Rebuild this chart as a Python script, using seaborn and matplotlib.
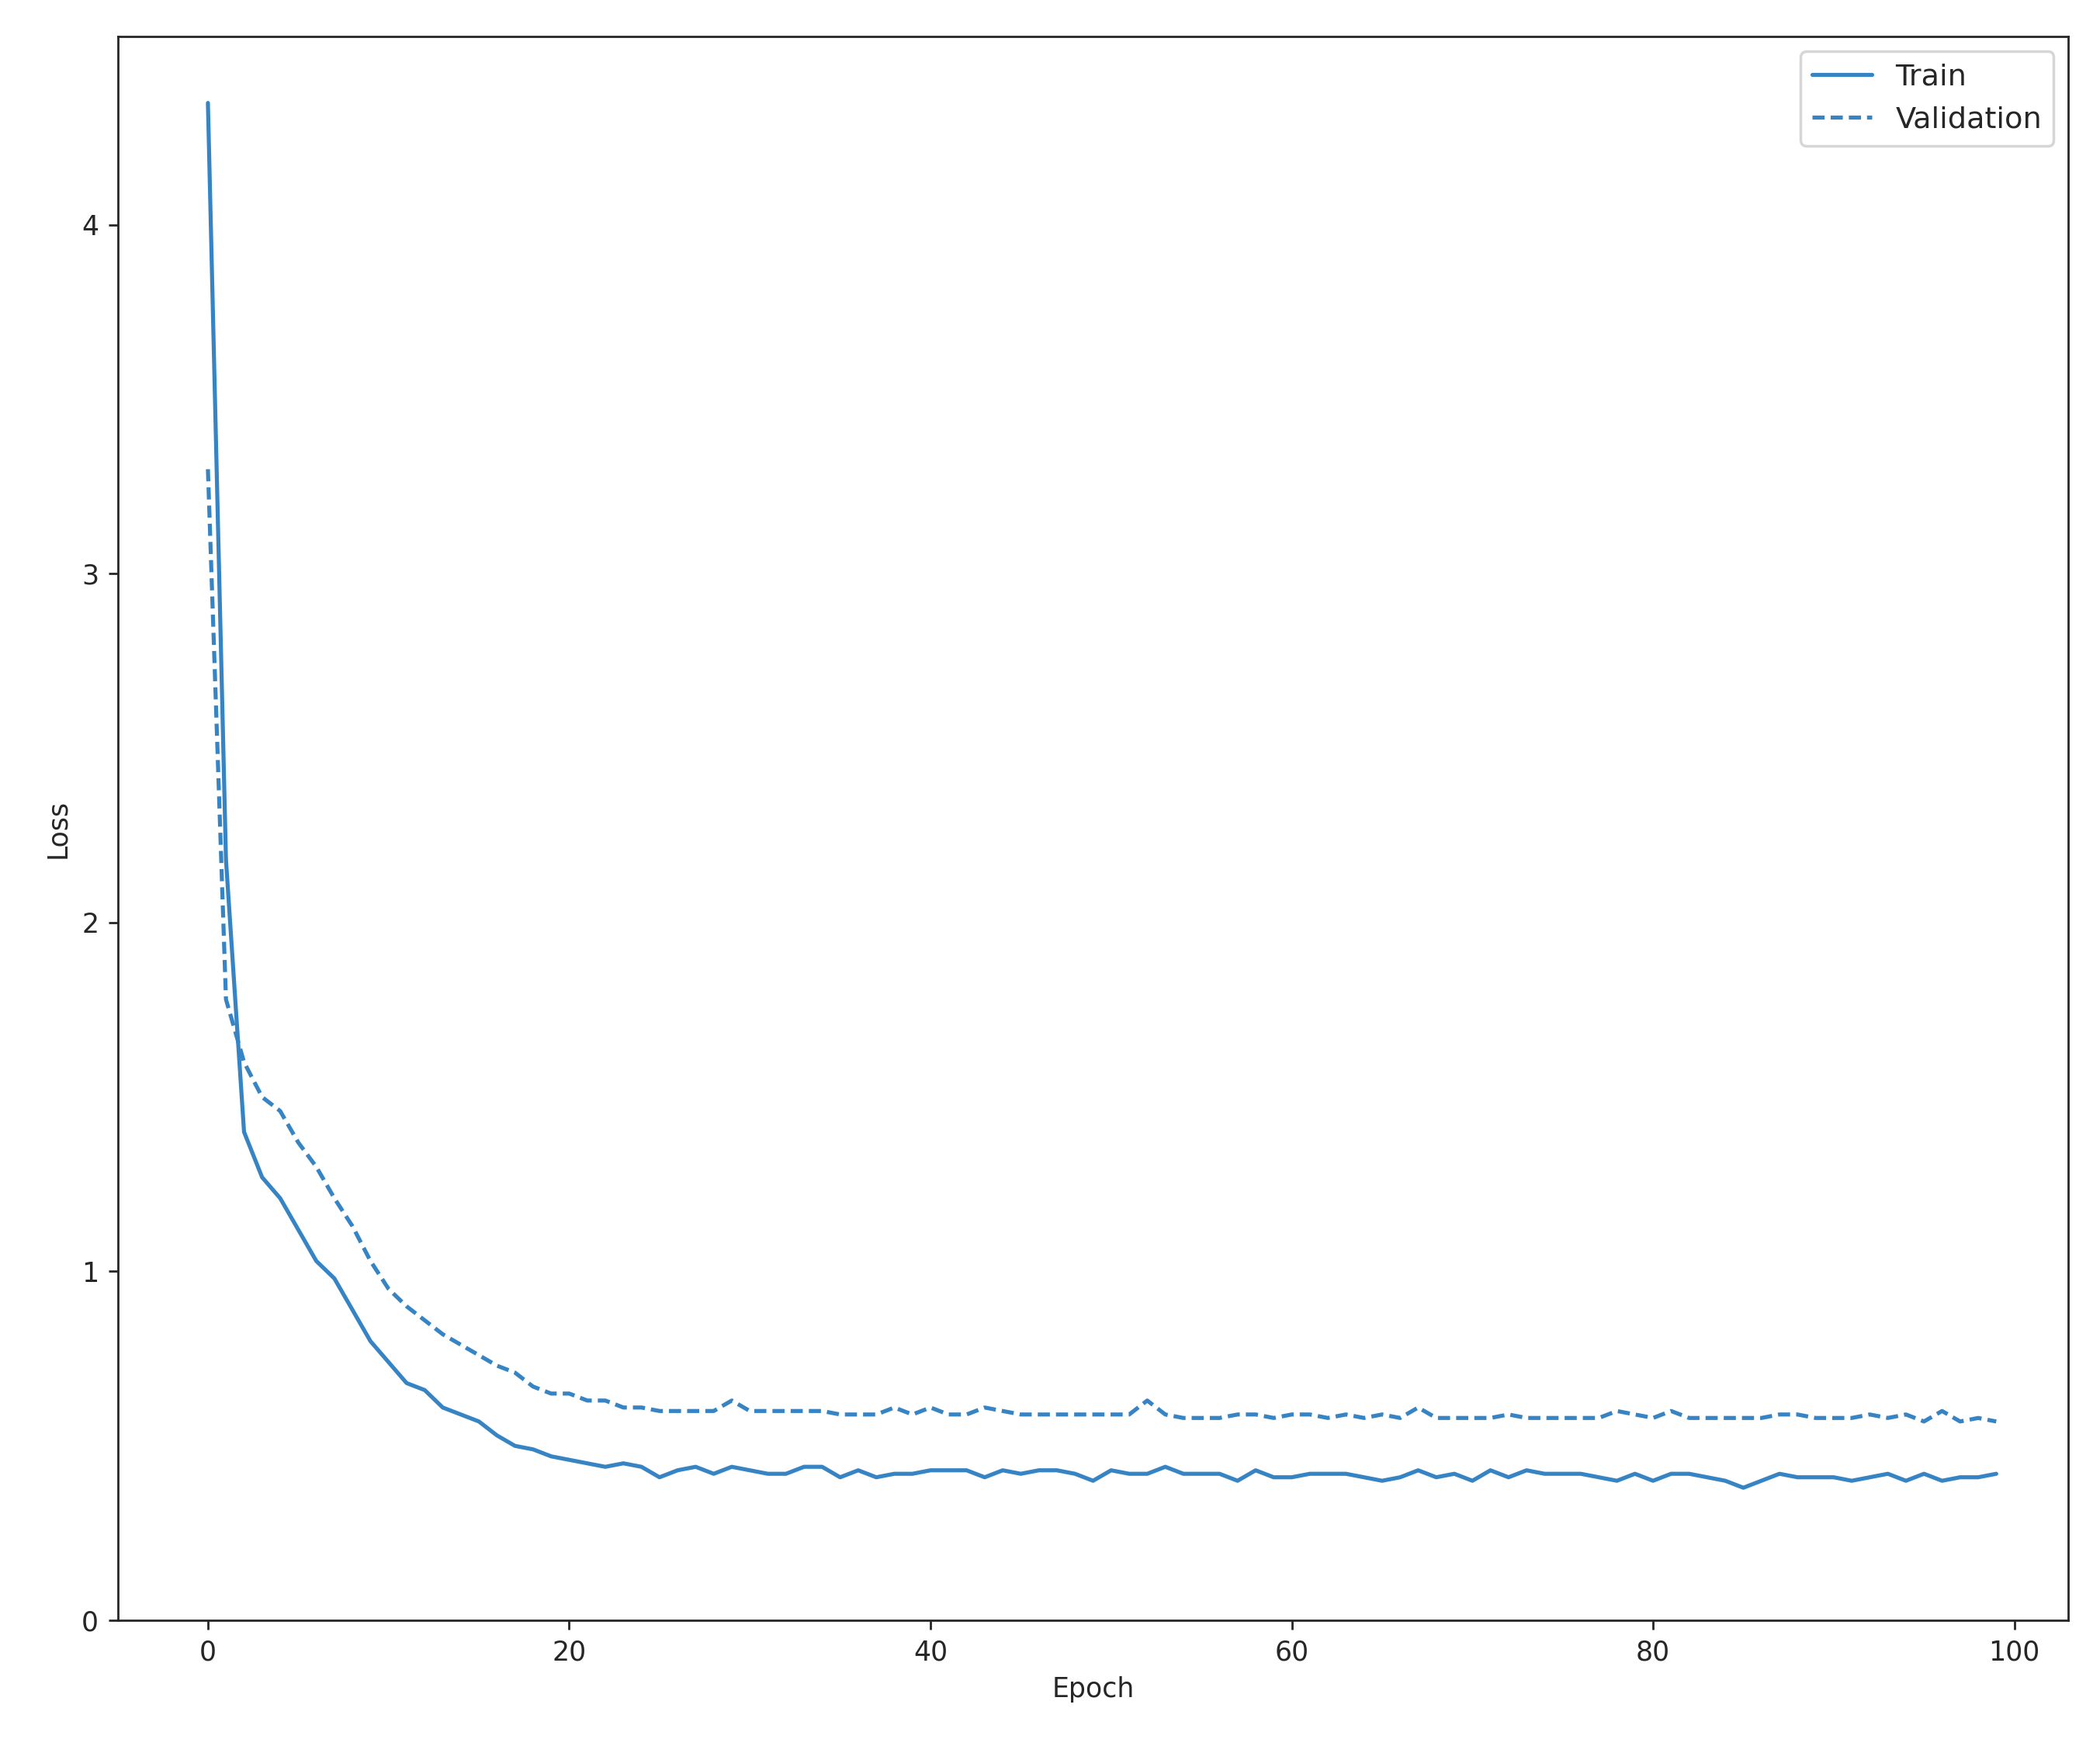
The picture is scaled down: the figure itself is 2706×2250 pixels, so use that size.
import numpy as np
import pandas as pd
import matplotlib
matplotlib.use("Agg")
import matplotlib.pyplot as plt
import seaborn as sns

# strata treningowa i walidacyjna
train_loss = [4.35, 2.18, 1.40, 1.27, 1.21, 1.12, 1.03, 0.98, 0.89, 0.80,
              0.74, 0.68, 0.66, 0.61, 0.59, 0.57, 0.53, 0.50, 0.49, 0.47,
              0.46, 0.45, 0.44, 0.45, 0.44, 0.41, 0.43, 0.44, 0.42, 0.44,
              0.43, 0.42, 0.42, 0.44, 0.44, 0.41, 0.43, 0.41, 0.42, 0.42,
              0.43, 0.43, 0.43, 0.41, 0.43, 0.42, 0.43, 0.43, 0.42, 0.40,
              0.43, 0.42, 0.42, 0.44, 0.42, 0.42, 0.42, 0.40, 0.43, 0.41,
              0.41, 0.42, 0.42, 0.42, 0.41, 0.40, 0.41, 0.43, 0.41, 0.42,
              0.40, 0.43, 0.41, 0.43, 0.42, 0.42, 0.42, 0.41, 0.40, 0.42,
              0.40, 0.42, 0.42, 0.41, 0.40, 0.38, 0.40, 0.42, 0.41, 0.41,
              0.41, 0.40, 0.41, 0.42, 0.40, 0.42, 0.40, 0.41, 0.41, 0.42]
val_loss = [3.30, 1.78, 1.60, 1.50, 1.46, 1.37, 1.30, 1.21, 1.13, 1.03,
            0.95, 0.90, 0.86, 0.82, 0.79, 0.76, 0.73, 0.71, 0.67, 0.65,
            0.65, 0.63, 0.63, 0.61, 0.61, 0.60, 0.60, 0.60, 0.60, 0.63,
            0.60, 0.60, 0.60, 0.60, 0.60, 0.59, 0.59, 0.59, 0.61, 0.59,
            0.61, 0.59, 0.59, 0.61, 0.60, 0.59, 0.59, 0.59, 0.59, 0.59,
            0.59, 0.59, 0.63, 0.59, 0.58, 0.58, 0.58, 0.59, 0.59, 0.58,
            0.59, 0.59, 0.58, 0.59, 0.58, 0.59, 0.58, 0.61, 0.58, 0.58,
            0.58, 0.58, 0.59, 0.58, 0.58, 0.58, 0.58, 0.58, 0.60, 0.59,
            0.58, 0.60, 0.58, 0.58, 0.58, 0.58, 0.58, 0.59, 0.59, 0.58,
            0.58, 0.58, 0.59, 0.58, 0.59, 0.57, 0.60, 0.57, 0.58, 0.57]
epochs = list(range(len(train_loss)))

df = pd.DataFrame({
    'Epoch': epochs * 2,
    'Loss': train_loss + val_loss,
    'Zbior': ['Train'] * len(epochs) + ['Validation'] * len(epochs),
})

sns.set_style("ticks")
plt.rcParams['font.family'] = ['DejaVu Sans']

fig = plt.figure(figsize=(10.824, 9), dpi=250)
ax = fig.add_axes([0.056, 0.072, 0.929, 0.907])
kolor = '#3784c5'
sns.lineplot(data=df, x='Epoch', y='Loss', style='Zbior', color=kolor,
             dashes={'Train': '', 'Validation': (3, 1.5)}, ax=ax, linewidth=1.5)

ax.set_xlim(-5, 103)
ax.set_ylim(0, 4.54)
ax.set_xticks([0, 20, 40, 60, 80, 100])
ax.set_yticks([0, 1, 2, 3, 4])
ax.set_xlabel('Epoch')
ax.set_ylabel('Loss')
ax.legend(title=None, loc='upper right', fontsize=11)
for s in ax.spines.values():
    s.set_visible(True)

fig.savefig('out.png', dpi=250)
